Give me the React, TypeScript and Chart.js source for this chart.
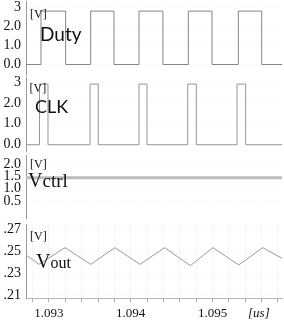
import React, { useEffect, useRef } from 'react';
import { Chart, registerables } from 'chart.js';

Chart.register(...registerables);

// ---- time axis (us) ----
const X_MIN = 1.092719;
const X_MAX = 1.09585;
const xLabelValues = [1.093, 1.094, 1.095];
const xLabels = ['1.093', '1.094', '1.095'];
const xUnitValue = 1.095567;
const xUnitLabel = '[us]';
const xMinorTicks = [1.0928, 1.093, 1.0932, 1.0934, 1.0936, 1.0938, 1.094, 1.0942, 1.0944, 1.0946, 1.0948, 1.095, 1.0952, 1.0954, 1.0956, 1.0958];

// ---- Duty ----
const dutyTimes = [1.092719, 1.092902, 1.093204, 1.09351, 1.093795, 1.094101, 1.094394, 1.094704, 1.094994, 1.095316, 1.095602, 1.09585];
const dutyLevels = [0, 2.8, 0, 2.8, 0, 2.8, 0, 2.8, 0, 2.8, 0, 0];
const dutyTickValues = [0, 1, 2, 3];
const dutyTickLabels = ['0.0', '1.0', '2.0', '3'];

// ---- CLK ----
const clkTimes = [1.092719, 1.092884, 1.092988, 1.093502, 1.093603, 1.094101, 1.094199, 1.094697, 1.094802, 1.0953, 1.095406, 1.09585];
const clkLevels = [0, 2.9, 0, 2.9, 0, 2.9, 0, 2.9, 0, 2.9, 0, 0];
const clkTickValues = [0, 1, 2, 3];
const clkTickLabels = ['0.0', '1.0', '2.0', '3'];

// ---- Vctrl ----
const vctrlTimes = [1.092719, 1.09585];
const vctrlLevels = [1.44, 1.44];
const vctrlTickValues = [0.5, 1.0, 1.5, 2.0];
const vctrlTickLabels = ['0.5', '1.0', '1.5', '2.0'];

// ---- Vout ----
const voutTimes = [1.092719, 1.092878, 1.093196, 1.09351, 1.093807, 1.094113, 1.094415, 1.094729, 1.095006, 1.095321, 1.095614, 1.09585];
const voutLevels = [0.2466, 0.2382, 0.2532, 0.2382, 0.2532, 0.2382, 0.2532, 0.237, 0.2532, 0.2376, 0.2532, 0.2436];
const voutTickValues = [0.21, 0.23, 0.25, 0.27];
const voutTickLabels = ['.21', '.23', '.25', '.27'];

const W = 284;
const H = 320;
const SERIF = "'Liberation Serif', 'DejaVu Serif', serif";
const SANS = "Lato, 'Open Sans', sans-serif";

type TextItem = { parts: { text: string; font: string }[]; x: number; y: number; baseline: CanvasTextBaseline };

function annotate(items: TextItem[]) {
  return {
    id: 'annot',
    afterDraw(chart: any) {
      const ctx = chart.ctx as CanvasRenderingContext2D;
      ctx.save();
      ctx.fillStyle = '#111';
      ctx.textAlign = 'left';
      for (const it of items) {
        ctx.textBaseline = it.baseline;
        let x = it.x;
        for (const p of it.parts) {
          ctx.font = p.font;
          ctx.fillText(p.text, x, it.y);
          x += ctx.measureText(p.text).width;
        }
      }
      ctx.restore();
    },
  };
}

type Panel = {
  times: number[];
  levels: number[];
  stepped: boolean;
  color: string;
  width: number;
  top: number;
  bottom: number;
  yMin: number;
  yMax: number;
  tickValues: number[];
  tickLabels: string[];
  showX: boolean;
  texts: TextItem[];
};

const near = (a: number, b: number) => Math.abs(a - b) < 1e-7;
const X_AXIS_H = 22;

function buildConfig(p: Panel): any {
  const xScale: any = {
    type: 'linear',
    min: X_MIN,
    max: X_MAX,
    display: p.showX,
    afterBuildTicks: (s: any) => {
      s.ticks = [...xMinorTicks, xUnitValue].map((v) => ({ value: v }));
    },
    afterFit: (s: any) => {
      s.paddingLeft = 0;
      s.paddingRight = 0;
      s.height = p.showX ? X_AXIS_H : 0;
    },
    ticks: {
      autoSkip: false,
      maxRotation: 0,
      minRotation: 0,
      padding: 4,
      color: '#111',
      font: (ctx: any) => ({
        family: SERIF,
        size: 13,
        style: ctx.tick && near(ctx.tick.value, xUnitValue) ? 'italic' : 'normal',
      }),
      callback: (v: number) => {
        if (near(v, xUnitValue)) return xUnitLabel;
        const i = xLabelValues.findIndex((lv) => near(lv, v));
        return i >= 0 ? xLabels[i] : '';
      },
    },
    grid: {
      drawTicks: true,
      tickLength: 4,
      color: (ctx: any) => (ctx.tick && near(ctx.tick.value, xUnitValue) ? 'rgba(0,0,0,0)' : 'rgba(0,0,0,0.035)'),
      tickColor: (ctx: any) => (ctx.tick && near(ctx.tick.value, xUnitValue) ? 'rgba(0,0,0,0)' : '#aaa'),
    },
    border: { display: true, color: '#b5b5b5', width: 1 },
  };
  const yScale: any = {
    type: 'linear',
    min: p.yMin,
    max: p.yMax,
    afterBuildTicks: (s: any) => {
      s.ticks = p.tickValues.map((v) => ({ value: v }));
    },
    afterFit: (s: any) => {
      s.width = 26;
      s.paddingTop = 0;
      s.paddingBottom = 0;
    },
    ticks: {
      autoSkip: false,
      padding: 5,
      color: '#111',
      font: { family: SERIF, size: 14 },
      callback: (v: number) => {
        const i = p.tickValues.findIndex((tv) => near(tv, v));
        return i >= 0 ? p.tickLabels[i] : '';
      },
    },
    grid: { drawTicks: false, color: 'rgba(0,0,0,0.05)' },
    border: { display: true, color: '#9a9a9a', dash: [1, 2], width: 1 },
  };
  return {
    type: 'line',
    data: {
      datasets: [
        {
          data: p.times.map((t, i) => ({ x: t, y: p.levels[i] })),
          borderColor: p.color,
          borderWidth: p.width,
          pointRadius: 0,
          stepped: p.stepped,
          fill: false,
          tension: 0,
        },
      ],
    },
    options: {
      responsive: false,
      animation: false,
      events: [],
      layout: {
        padding: {
          top: p.top,
          bottom: p.showX ? H - p.bottom - X_AXIS_H : H - p.bottom,
          left: 0,
          right: 2,
        },
      },
      plugins: { legend: { display: false }, tooltip: { enabled: false }, title: { display: false } },
      scales: { x: xScale, y: yScale },
    },
    plugins: [annotate(p.texts)],
  };
}

const panels: Panel[] = [
  {
    times: dutyTimes,
    levels: dutyLevels,
    stepped: true,
    color: '#858585',
    width: 1,
    top: 1,
    bottom: 75,
    yMin: -0.55,
    yMax: 3.33,
    tickValues: dutyTickValues,
    tickLabels: dutyTickLabels,
    showX: false,
    texts: [
      { parts: [{ text: '[V]', font: `12px ${SERIF}` }], x: 30, y: 15, baseline: 'middle' },
      { parts: [{ text: 'Duty', font: `19px ${SANS}` }], x: 40, y: 41, baseline: 'alphabetic' },
    ],
  },
  {
    times: clkTimes,
    levels: clkLevels,
    stepped: true,
    color: '#959595',
    width: 1,
    top: 77,
    bottom: 151,
    yMin: -0.3,
    yMax: 3.24,
    tickValues: clkTickValues,
    tickLabels: clkTickLabels,
    showX: false,
    texts: [
      { parts: [{ text: '[V]', font: `12px ${SERIF}` }], x: 29.5, y: 89, baseline: 'middle' },
      { parts: [{ text: 'CLK', font: `18px ${SANS}` }], x: 35, y: 113, baseline: 'alphabetic' },
    ],
  },
  {
    times: vctrlTimes,
    levels: vctrlLevels,
    stepped: false,
    color: '#bdbdbd',
    width: 3,
    top: 155,
    bottom: 218,
    yMin: -0.2,
    yMax: 2.37,
    tickValues: vctrlTickValues,
    tickLabels: vctrlTickLabels,
    showX: false,
    texts: [
      { parts: [{ text: '[V]', font: `12px ${SERIF}` }], x: 30, y: 164.5, baseline: 'middle' },
      {
        parts: [
          { text: 'V', font: `20px ${SERIF}` },
          { text: 'ctrl', font: `19px ${SERIF}` },
        ],
        x: 28,
        y: 187,
        baseline: 'alphabetic',
      },
    ],
  },
  {
    times: voutTimes,
    levels: voutLevels,
    stepped: false,
    color: '#9a9a9a',
    width: 1,
    top: 224,
    bottom: 298,
    yMin: 0.2079,
    yMax: 0.2745,
    tickValues: voutTickValues,
    tickLabels: voutTickLabels,
    showX: true,
    texts: [
      { parts: [{ text: '[V]', font: `12px ${SERIF}` }], x: 30, y: 236.7, baseline: 'middle' },
      {
        parts: [
          { text: 'V', font: `20px ${SERIF}` },
          { text: 'out', font: `16px ${SERIF}` },
        ],
        x: 36,
        y: 268,
        baseline: 'alphabetic',
      },
    ],
  },
];

function PanelCanvas({ panel }: { panel: Panel }) {
  const ref = useRef<HTMLCanvasElement | null>(null);
  useEffect(() => {
    if (!ref.current) return;
    const chart = new Chart(ref.current, buildConfig(panel));
    return () => chart.destroy();
  }, [panel]);
  return (
    <canvas
      ref={ref}
      width={W}
      height={H}
      style={{ position: 'absolute', left: 0, top: 0, width: W, height: H }}
    />
  );
}

export default function App() {
  return (
    <div style={{ position: 'fixed', left: 0, top: 0, width: W, height: H, background: '#fff', overflow: 'hidden' }}>
      {panels.map((p, i) => (
        <PanelCanvas key={i} panel={p} />
      ))}
    </div>
  );
}
